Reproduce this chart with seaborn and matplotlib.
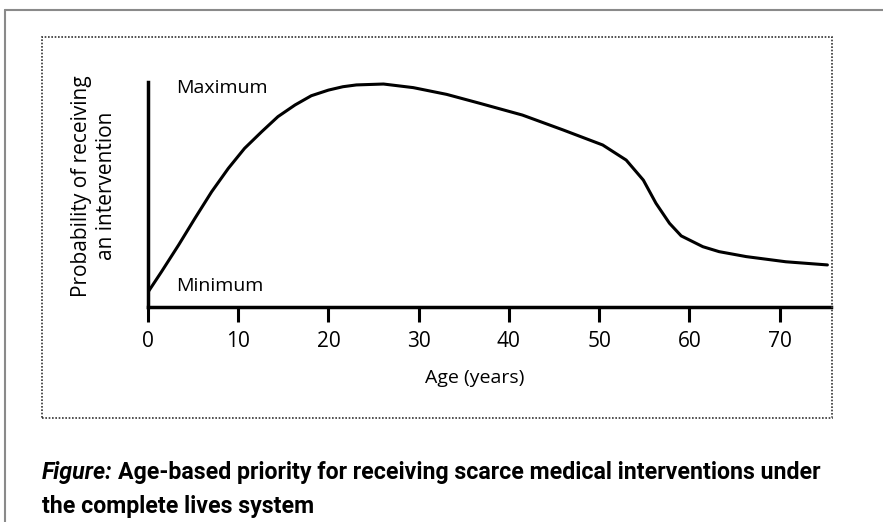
import matplotlib
matplotlib.use("Agg")
import matplotlib.pyplot as plt
import seaborn as sns
from matplotlib.lines import Line2D
from matplotlib.patches import Rectangle

# values (priority on a 0 = minimum .. 1 = maximum scale)
ages = [0.0, 1.5, 3.4, 5.2, 7.05, 8.9, 10.7, 12.6, 14.4, 16.3, 18.1, 20.0, 21.6, 23.1,
        26.1, 29.4, 33.1, 36.8, 41.5, 46.0, 50.4, 53.0, 54.9, 56.3, 57.8, 59.1, 61.5,
        63.3, 66.3, 70.7, 75.3]
priority = [0.066, 0.157, 0.276, 0.394, 0.512, 0.616, 0.705, 0.779, 0.846, 0.898, 0.939,
            0.964, 0.979, 0.987, 0.991, 0.975, 0.945, 0.905, 0.853, 0.787, 0.720, 0.653,
            0.564, 0.461, 0.372, 0.316, 0.268, 0.246, 0.224, 0.201, 0.187]
age_ticks = [0, 10, 20, 30, 40, 50, 60, 70]

sns.set_style("white")
plt.rcParams["font.family"] = ["Open Sans", "DejaVu Sans"]
plt.rcParams["text.color"] = "black"
plt.rcParams["xtick.color"] = "black"

W, H = 883, 522
fig = plt.figure(figsize=(W / 100, H / 100), dpi=100)

# page frame and dotted figure box
fig.add_artist(Line2D([5 / W, 1], [1 - 10 / H, 1 - 10 / H], color="#8a8a8a", lw=1.5))
fig.add_artist(Line2D([5 / W, 5 / W], [0, 1 - 10 / H], color="#8a8a8a", lw=1.5))
fig.add_artist(Rectangle((42 / W, 1 - 418 / H), (832 - 42) / W, (418 - 37) / H,
                         fill=False, ec="#333333", lw=1.2, ls=(0, (1, 1))))

ax = fig.add_axes([148 / W, 1 - 307 / H, (831 - 148) / W, (307 - 82) / H])
sns.lineplot(x=ages, y=priority, color="black", lw=2.2, ax=ax)
ax.set_xlim(0, 75.7)
ax.set_ylim(0, 1)
ax.patch.set_alpha(0)

for side in ["top", "right"]:
    ax.spines[side].set_visible(False)
for side in ["left", "bottom"]:
    ax.spines[side].set_linewidth(2.5)
    ax.spines[side].set_color("black")

ax.set_xticks(age_ticks)
ax.set_yticks([])
ax.tick_params(axis="x", direction="out", length=11, width=2.2, labelsize=15, pad=6,
               colors="black", bottom=True)

ax.text(0.041, 0.973, "Maximum", transform=ax.transAxes, fontsize=14, va="center", ha="left")
ax.text(0.041, 0.093, "Minimum", transform=ax.transAxes, fontsize=14, va="center", ha="left")

fig.text(94 / W, 1 - 186 / H, "Probability of receiving\nan intervention", rotation=90,
         fontsize=15, ha="center", va="center", linespacing=1.25)
fig.text(475 / W, 1 - 378 / H, "Age (years)", fontsize=14, ha="center", va="center")

cap_font = ["Roboto", "DejaVu Sans"]
t1 = fig.text(42 / W, 1 - 484 / H, "Figure:", fontsize=16.7, fontweight="bold", style="italic",
              family=cap_font, va="bottom")
ax.annotate("Age-based priority for receiving scarce medical interventions under",
            xy=(1, 0), xycoords=t1, xytext=(4, 0), textcoords="offset points",
            va="bottom", ha="left", fontsize=16.7, fontweight="bold",
            family=cap_font, annotation_clip=False)
fig.text(42 / W, 1 - 518 / H, "the complete lives system", fontsize=16.7, fontweight="bold",
         family=cap_font, va="bottom")

fig.savefig("out.png", dpi=100)
